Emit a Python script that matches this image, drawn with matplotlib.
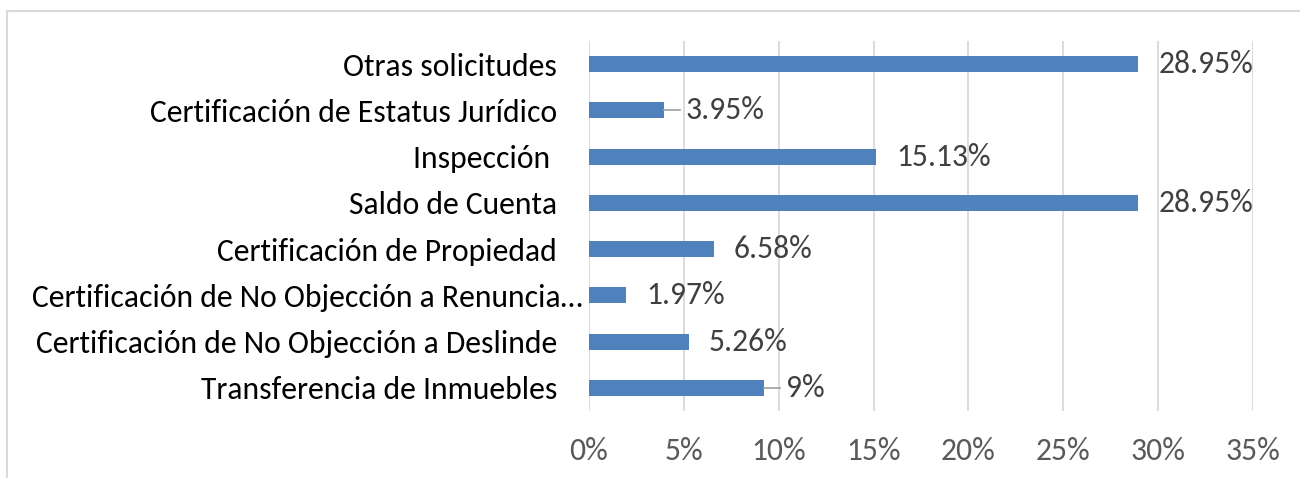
import matplotlib
matplotlib.use("Agg")
import matplotlib.pyplot as plt
from matplotlib.patches import Rectangle
from matplotlib.transforms import ScaledTranslation
from matplotlib import font_manager

categories = [
    "Transferencia de Inmuebles",
    "Certificación de No Objección a Deslinde",
    "Certificación de No Objección a Renuncia…",
    "Certificación de Propiedad",
    "Saldo de Cuenta",
    "Inspección ",
    "Certificación de Estatus Jurídico",
    "Otras solicitudes",
]
values = [9.21, 5.26, 1.97, 6.58, 28.95, 15.13, 3.95, 28.95]
value_labels = ["9%", "5.26%", "1.97%", "6.58%", "28.95%", "15.13%", "3.95%", "28.95%"]
leader = [True, False, False, False, False, False, True, False]
xticks = [0, 5, 10, 15, 20, 25, 30, 35]
xtick_labels = ["0%", "5%", "10%", "15%", "20%", "25%", "30%", "35%"]

avail = {f.name for f in font_manager.fontManager.ttflist}
fam = [f for f in ["Carlito", "Liberation Sans Narrow", "Open Sans", "DejaVu Sans"] if f in avail]
plt.rcParams["font.family"] = fam

FS = 22.8
fig = plt.figure(figsize=(13, 4.78), dpi=100)
fig.patches.append(Rectangle((7 / 1300, -0.1), 1.2, 1 - 11 / 478 + 0.1, transform=fig.transFigure,
                             fill=False, edgecolor="#d9d9d9", linewidth=1.5))
ax = fig.add_axes([589 / 1300, 1 - 411 / 478, (1253 - 589) / 1300, (411 - 41) / 478])

bar_color = "#4f81bd"
ypos = list(range(len(categories)))
ax.barh(ypos, values, height=0.35, color=bar_color, zorder=3)
ax.set_xlim(0, 35)
ax.set_ylim(-0.5, len(categories) - 0.5)
ax.set_xticks(xticks)
ax.set_xticklabels(xtick_labels, fontsize=FS, color="#595959")
ax.set_yticks(ypos)
ax.set_yticklabels(categories, fontsize=FS, color="#000000")
ax.tick_params(axis="x", length=0, pad=19)
ax.tick_params(axis="y", length=0, pad=23)
ax.grid(axis="x", color="#d9d9d9", linewidth=1.3, zorder=0)
for s in ax.spines.values():
    s.set_visible(False)

# the truncated label with ellipsis sits further right in the reference
for t in ax.get_yticklabels():
    if t.get_text().endswith("…"):
        t.set_transform(t.get_transform() + ScaledTranslation(26 / 100, 0, fig.dpi_scale_trans))

xpx = 35 / (1253 - 589)
for y, v, lab, ld in zip(ypos, values, value_labels, leader):
    if ld:
        ax.plot([v, v + 16 * xpx], [y, y], color="#a6a6a6", linewidth=1.3, zorder=4)
        ax.text(v + 22 * xpx, y, lab, va="center", ha="left", fontsize=FS, color="#404040")
    else:
        ax.text(v + 20 * xpx, y, lab, va="center", ha="left", fontsize=FS, color="#404040")

fig.savefig("out.png", dpi=100)
